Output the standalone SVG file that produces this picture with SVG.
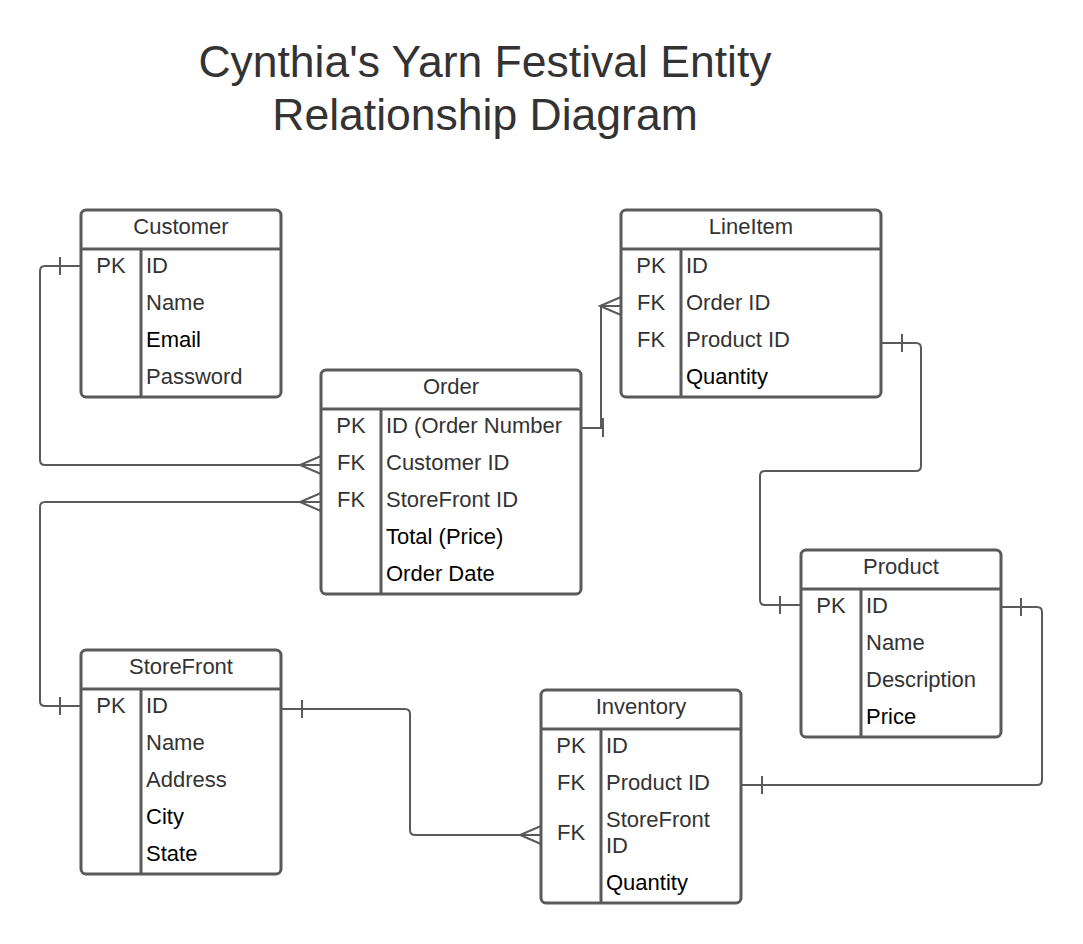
<svg xmlns="http://www.w3.org/2000/svg" width="1083" height="944" viewBox="0 0 1083 944">
<style>
.box{fill:#fff;stroke:#5a5a5a;stroke-width:3}
.ln{fill:none;stroke:#5a5a5a;stroke-width:3}
.cn{fill:none;stroke:#5a5a5a;stroke-width:2}
text{font-family:"Liberation Sans",Arial,sans-serif;font-size:22px;fill:#333}
.k{text-anchor:middle}
.b{fill:#000}
.t{font-size:44.5px;text-anchor:middle;fill:#333}
</style>
<rect width="1083" height="944" fill="#fff"/>
<g id="title">
<text class="t" x="485" y="77">Cynthia's Yarn Festival Entity</text>
<text class="t" x="485" y="130">Relationship Diagram</text>
</g>
<g id="connectors">
<path class="cn" d="M81,266 H45 Q40,266 40,271 V460 Q40,465 45,465 H321"/>
<path class="cn" d="M60,257 V275"/>
<path class="cn" d="M321,456 L300,465 L321,474"/>
<path class="cn" d="M81,706 H45 Q40,706 40,701 V507 Q40,502 45,502 H321"/>
<path class="cn" d="M60,697 V715"/>
<path class="cn" d="M321,493 L300,502 L321,511"/>
<path class="cn" d="M581,428 H601 V306 H621"/>
<path class="cn" d="M603,418 V437"/>
<path class="cn" d="M621,297 L600,306 L621,315"/>
<path class="cn" d="M881,343 H916 Q921,343 921,348 V466 Q921,471 916,471 H765 Q760,471 760,476 V600 Q760,605 765,605 H801"/>
<path class="cn" d="M902,334 V352"/>
<path class="cn" d="M780,596 V614"/>
<path class="cn" d="M1001,607 H1037 Q1042,607 1042,612 V780 Q1042,785 1037,785 H741"/>
<path class="cn" d="M1021,598 V616"/>
<path class="cn" d="M762,776 V794"/>
<path class="cn" d="M281,709 H405 Q410,709 410,714 V830 Q410,835 415,835 H541"/>
<path class="cn" d="M302,700 V718"/>
<path class="cn" d="M541,826 L520,835 L541,844"/>
</g>
<g id="customer">
<rect class="box" x="81" y="210" width="200" height="187" rx="5"/>
<path class="ln" d="M81,249 H281 M141,249 V397"/>
<text class="k" x="181" y="234">Customer</text>
<text class="k" x="111" y="273">PK</text>
<text x="146" y="273">ID</text>
<text x="146" y="310">Name</text>
<text class="b" x="146" y="347">Email</text>
<text x="146" y="384">Password</text>
</g>
<g id="order">
<rect class="box" x="321" y="370" width="260" height="224" rx="5"/>
<path class="ln" d="M321,409 H581 M381,409 V594"/>
<text class="k" x="451" y="394">Order</text>
<text class="k" x="351" y="433">PK</text>
<text x="386" y="433">ID (Order Number</text>
<text class="k" x="351" y="470">FK</text>
<text x="386" y="470">Customer ID</text>
<text class="k" x="351" y="507">FK</text>
<text x="386" y="507">StoreFront ID</text>
<text class="b" x="386" y="544">Total (Price)</text>
<text class="b" x="386" y="581">Order Date</text>
</g>
<g id="lineitem">
<rect class="box" x="621" y="210" width="260" height="187" rx="5"/>
<path class="ln" d="M621,249 H881 M681,249 V397"/>
<text class="k" x="751" y="234">LineItem</text>
<text class="k" x="651" y="273">PK</text>
<text x="686" y="273">ID</text>
<text class="k" x="651" y="310">FK</text>
<text x="686" y="310">Order ID</text>
<text class="k" x="651" y="347">FK</text>
<text x="686" y="347">Product ID</text>
<text class="b" x="686" y="384">Quantity</text>
</g>
<g id="product">
<rect class="box" x="801" y="550" width="200" height="187" rx="5"/>
<path class="ln" d="M801,589 H1001 M861,589 V737"/>
<text class="k" x="901" y="574">Product</text>
<text class="k" x="831" y="613">PK</text>
<text x="866" y="613">ID</text>
<text x="866" y="650">Name</text>
<text x="866" y="687">Description</text>
<text class="b" x="866" y="724">Price</text>
</g>
<g id="storefront">
<rect class="box" x="81" y="650" width="200" height="224" rx="5"/>
<path class="ln" d="M81,689 H281 M141,689 V874"/>
<text class="k" x="181" y="674">StoreFront</text>
<text class="k" x="111" y="713">PK</text>
<text x="146" y="713">ID</text>
<text x="146" y="750">Name</text>
<text x="146" y="787">Address</text>
<text class="b" x="146" y="824">City</text>
<text class="b" x="146" y="861">State</text>
</g>
<g id="inventory">
<rect class="box" x="541" y="690" width="200" height="213" rx="5"/>
<path class="ln" d="M541,729 H741 M601,729 V903"/>
<text class="k" x="641" y="714">Inventory</text>
<text class="k" x="571" y="753">PK</text>
<text x="606" y="753">ID</text>
<text class="k" x="571" y="790">FK</text>
<text x="606" y="790">Product ID</text>
<text class="k" x="571" y="840">FK</text>
<text x="606" y="827">StoreFront</text>
<text x="606" y="853">ID</text>
<text class="b" x="606" y="890">Quantity</text>
</g>
</svg>
